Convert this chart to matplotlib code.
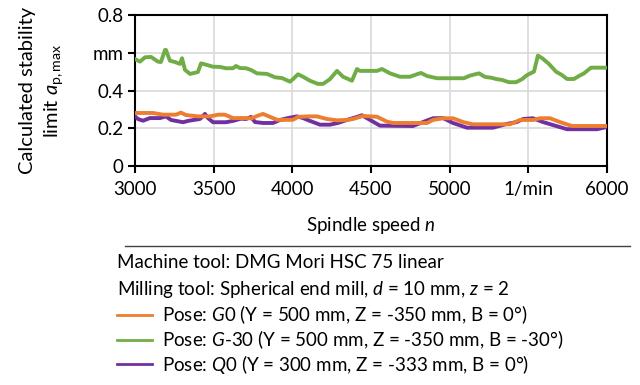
import matplotlib.pyplot as plt
from matplotlib.lines import Line2D

plt.rcParams['font.family'] = ['Lato', 'DejaVu Sans']
plt.rcParams['mathtext.fontset'] = 'custom'
plt.rcParams['mathtext.rm'] = 'Lato'
plt.rcParams['mathtext.it'] = 'Lato:italic'
plt.rcParams['font.size'] = 13.5

# spindle speed (1/min) and stability limit (mm)
n_g30 = [3000, 3032, 3064, 3102, 3146, 3165, 3191, 3197, 3222, 3254, 3286, 3299, 3318, 3350,
         3381, 3400, 3420, 3451, 3496, 3540, 3578, 3623, 3642, 3667, 3706, 3737, 3775, 3839,
         3890, 3934, 3985, 4004, 4036, 4068, 4112, 4163, 4195, 4239, 4284, 4322, 4379, 4411,
         4430, 4494, 4538, 4570, 4621, 4684, 4748, 4792, 4818, 4856, 4920, 5002, 5091, 5129,
         5186, 5225, 5263, 5301, 5333, 5377, 5422, 5460, 5492, 5536, 5561, 5587, 5631, 5676,
         5714, 5746, 5790, 5822, 5854, 5898, 5956, 6000]
a_g30 = [0.567, 0.553, 0.576, 0.578, 0.553, 0.551, 0.615, 0.615, 0.558, 0.551, 0.541, 0.571,
         0.509, 0.488, 0.494, 0.498, 0.544, 0.537, 0.526, 0.525, 0.518, 0.518, 0.530, 0.519,
         0.518, 0.509, 0.491, 0.488, 0.470, 0.466, 0.447, 0.460, 0.486, 0.473, 0.452, 0.435,
         0.435, 0.460, 0.504, 0.473, 0.452, 0.514, 0.504, 0.504, 0.504, 0.514, 0.491, 0.473,
         0.473, 0.486, 0.493, 0.477, 0.465, 0.465, 0.465, 0.479, 0.491, 0.472, 0.468, 0.460,
         0.456, 0.444, 0.444, 0.460, 0.482, 0.500, 0.585, 0.572, 0.541, 0.500, 0.482, 0.461,
         0.461, 0.477, 0.491, 0.521, 0.521, 0.521]

n_g0 = [3000, 3114, 3178, 3261, 3292, 3324, 3400, 3477, 3528, 3572, 3623, 3706, 3740, 3775,
        3814, 3845, 3903, 3941, 4004, 4036, 4100, 4157, 4220, 4284, 4347, 4386, 4449, 4538,
        4602, 4640, 4856, 4894, 4958, 5021, 5085, 5148, 5383, 5447, 5530, 5574, 5638, 5701,
        5778, 6000]
a_g0 = [0.281, 0.281, 0.272, 0.272, 0.283, 0.270, 0.263, 0.263, 0.272, 0.272, 0.254, 0.254,
        0.252, 0.265, 0.276, 0.265, 0.245, 0.244, 0.245, 0.260, 0.263, 0.263, 0.249, 0.242,
        0.244, 0.249, 0.265, 0.261, 0.235, 0.228, 0.228, 0.244, 0.253, 0.253, 0.233, 0.221,
        0.221, 0.244, 0.244, 0.253, 0.253, 0.233, 0.212, 0.212]

n_q0 = [3000, 3019, 3051, 3095, 3159, 3197, 3229, 3305, 3337, 3381, 3413, 3445, 3464, 3496,
        3578, 3623, 3674, 3706, 3737, 3763, 3814, 3877, 3922, 3972, 4030, 4068, 4112, 4176,
        4239, 4290, 4347, 4411, 4443, 4494, 4557, 4767, 4831, 4894, 4958, 5021, 5110, 5275,
        5364, 5428, 5466, 5530, 5593, 5657, 5746, 5937, 6000]
a_q0 = [0.263, 0.249, 0.240, 0.254, 0.254, 0.263, 0.244, 0.232, 0.239, 0.245, 0.249, 0.276,
        0.254, 0.232, 0.232, 0.239, 0.251, 0.249, 0.260, 0.233, 0.228, 0.228, 0.244, 0.254,
        0.263, 0.254, 0.239, 0.219, 0.219, 0.228, 0.244, 0.260, 0.269, 0.244, 0.214, 0.212,
        0.233, 0.253, 0.254, 0.228, 0.203, 0.203, 0.223, 0.233, 0.249, 0.253, 0.233, 0.217,
        0.195, 0.195, 0.207]

x_ticks = [3000, 3500, 4000, 4500, 5000, 5500, 6000]
x_labels = ['3000', '3500', '4000', '4500', '5000', '1/min', '6000']
y_ticks = [0, 0.2, 0.4, 0.6, 0.8]
y_labels = ['0', '0.2', '0.4', 'mm', '0.8']

legend_labels = [
    'Pose: $\\mathit{G0}$ (Y = 500 mm, Z = -350 mm, B = 0°)',
    'Pose: $\\mathit{G}$-$\\mathit{30}$ (Y = 500 mm, Z = -350 mm, B = -30°)',
    'Pose: $\\mathit{Q0}$ (Y = 300 mm, Z = -333 mm, B = 0°)',
]
colors = ['#ED7D31', '#70AD47', '#7030A0']

fig = plt.figure(figsize=(6.4, 3.85), dpi=100)
ax = fig.add_axes([0.2109, 0.5688, 0.7375, 0.3922])

# purple drawn first, orange on top like the original
ax.plot(n_q0, a_q0, color=colors[2], lw=2.8, solid_joinstyle='round', zorder=3)
ax.plot(n_g0, a_g0, color=colors[0], lw=2.8, solid_joinstyle='round', zorder=4)
ax.plot(n_g30, a_g30, color=colors[1], lw=2.8, solid_joinstyle='round', zorder=4)

ax.set_xlim(3000, 6000)
ax.set_ylim(0, 0.8)
ax.set_xticks(x_ticks)
ax.set_xticklabels(x_labels)
ax.set_yticks(y_ticks)
ax.set_yticklabels(y_labels)
ax.grid(True, color='#d9d9d9', lw=1.2, zorder=0)
ax.set_axisbelow(True)
for s in ax.spines.values():
    s.set_linewidth(1.5)
    s.set_color('black')
ax.tick_params(direction='out', length=5, width=1.5, color='black', pad=3)
ax.tick_params(axis='x', pad=6)

ax.set_xlabel('Spindle speed $n$', labelpad=12)
ax.set_ylabel('Calculated stability\nlimit $a_{\\mathrm{p,max}}$', labelpad=20,
              linespacing=1.4, fontsize=14.5)

# box under the chart with machine info and legend
fig.add_artist(Line2D([0.195, 0.985], [1 - 246 / 385, 1 - 246 / 385], color='#404040', lw=1.0))
fig.text(117 / 640, 1 - 263 / 385, 'Machine tool: DMG Mori HSC 75 linear', va='center', ha='left')
fig.text(117 / 640, 1 - 290 / 385, 'Milling tool: Spherical end mill, $d$ = 10 mm, $z$ = 2',
         va='center', ha='left')
rows = [315, 340, 364]
for lab, c, yy in zip(legend_labels, colors, rows):
    fy = 1 - yy / 385
    fig.add_artist(Line2D([117 / 640, 152 / 640], [fy, fy], color=c, lw=2.0))
    fig.text(162 / 640, fy, lab, va='center', ha='left')

fig.savefig('out.png', dpi=100)
